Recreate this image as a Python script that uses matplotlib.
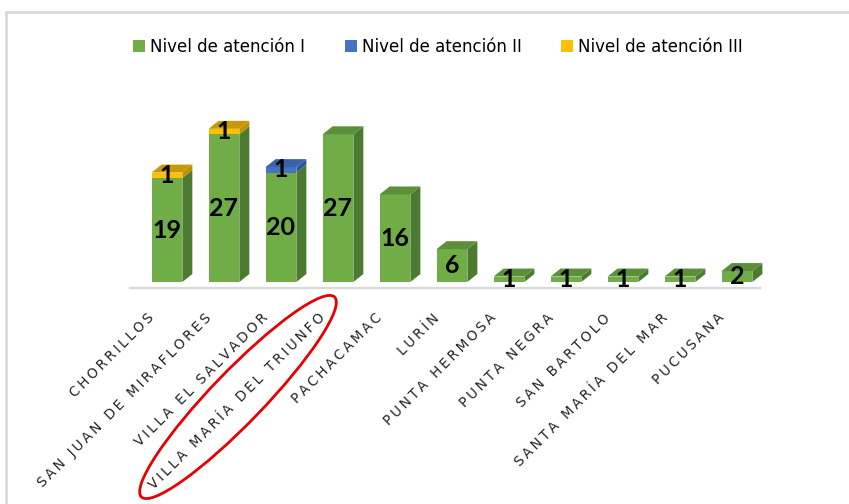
import matplotlib.pyplot as plt
from matplotlib.patches import Polygon, Rectangle, Ellipse, Patch

# --- data ---
districts = ['CHORRILLOS', 'SAN JUAN DE MIRAFLORES', 'VILLA EL SALVADOR',
             'VILLA MARÍA DEL TRIUNFO', 'PACHACAMAC', 'LURÍN', 'PUNTA HERMOSA',
             'PUNTA NEGRA', 'SAN BARTOLO', 'SANTA MARÍA DEL MAR', 'PUCUSANA']
nivel_1 = [19, 27, 20, 27, 16, 6, 1, 1, 1, 1, 2]
nivel_2 = [0, 0, 1, 0, 0, 0, 0, 0, 0, 0, 0]
nivel_3 = [1, 1, 0, 0, 0, 0, 0, 0, 0, 0, 0]
series_names = ['Nivel de atención I', 'Nivel de atención II', 'Nivel de atención III']

# front / side / top colours per series
colors = [('#70AD47', '#4C7A30', '#5B8F3A'),
          ('#4472C4', '#2F5597', '#3A62A8'),
          ('#FFC000', '#BF9000', '#C9980A')]

W, H = 849, 504
fig = plt.figure(figsize=(W / 100, H / 100), dpi=100)

# main axes: 57 px per category, 5.47 px per unit
ax = fig.add_axes([100 / W, (H - 300) / H, 700 / W, 240 / H])
ax.set_xlim(-1.175, 11.105)
ax.set_ylim(-3.29, 40.58)
ax.axis('off')

bw = 0.54          # bar width
ddx, ddy = 0.175, 1.46   # depth offset

# floor line
ax.plot([-0.65, 10.4], [-1.1, -1.1], color='#d9d9d9', lw=1.6, zorder=1)

stacks = [nivel_1, nivel_2, nivel_3]
for i in range(len(districts)):
    base = 0
    segs = [(stacks[k][i], k) for k in range(3) if stacks[k][i] > 0]
    for j, (v, k) in enumerate(segs):
        front, side, top = colors[k]
        x0, x1 = i - bw / 2, i + bw / 2
        y0, y1 = base, base + v
        ax.add_patch(Rectangle((x0, y0), bw, v, facecolor=front,
                               edgecolor='none', zorder=2))
        ax.add_patch(Polygon([(x1, y0), (x1 + ddx, y0 + ddy),
                              (x1 + ddx, y1 + ddy), (x1, y1)],
                             facecolor=side, edgecolor='none', zorder=2))
        if j == len(segs) - 1:
            ax.add_patch(Polygon([(x0, y1), (x0 + ddx, y1 + ddy),
                                  (x1 + ddx, y1 + ddy), (x1, y1)],
                                 facecolor=top, edgecolor='none', zorder=2))
        ax.text(i, base + v / 2, str(v), ha='center', va='center',
                fontsize=18, fontweight='bold', family='Lato',
                color='black', zorder=5)
        base = y1


def spaced(s):
    return '\u2009'.join(s)


for i, name in enumerate(districts):
    ax.text(i - 0.26, -6.2, spaced(name), rotation=45, rotation_mode='anchor',
            ha='right', va='center', fontsize=9.8, color='#222222')

handles = [Patch(facecolor=c[0], edgecolor='none') for c in colors]
fig.legend(handles, series_names, loc='center', bbox_to_anchor=(438 / W, 1 - 47 / H),
           ncol=3, frameon=False, fontsize=12, handlelength=0.7, handleheight=0.7,
           handletextpad=0.3, columnspacing=2.4)

# overlay in pixel coordinates: frame and red ellipse
ov = fig.add_axes([0, 0, 1, 1], zorder=10)
ov.set_xlim(0, W)
ov.set_ylim(0, H)
ov.axis('off')
ov.patch.set_alpha(0)
ov.plot([6, W], [H - 12, H - 12], color='#d9d9d9', lw=2)
ov.plot([6, 6], [0, H - 12], color='#d9d9d9', lw=2)
ov.add_patch(Ellipse((238, H - 397), 278, 52, angle=46, facecolor='none',
                     edgecolor='#e80000', lw=2))

fig.savefig('out.png', dpi=100)
